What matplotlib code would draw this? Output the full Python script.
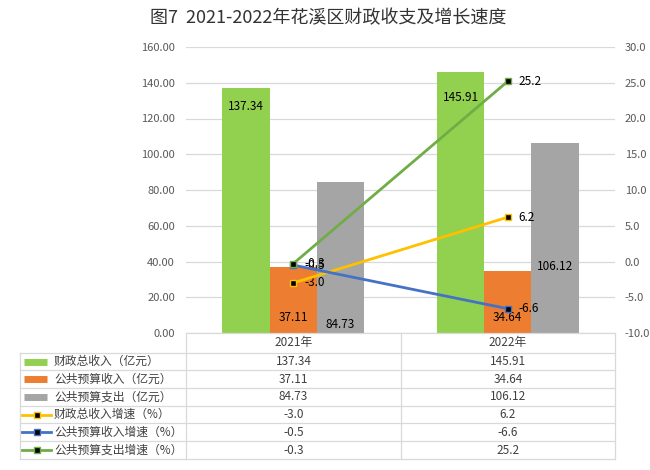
import matplotlib.pyplot as plt
import numpy as np
from matplotlib.lines import Line2D

plt.rcParams['font.family'] = ['Noto Sans CJK SC', 'DejaVu Sans']

years = ['2021年', '2022年']
total_rev = [137.34, 145.91]
budget_rev = [37.11, 34.64]
budget_exp = [84.73, 106.12]
total_rev_growth = [-3.0, 6.2]
budget_rev_growth = [-0.5, -6.6]
budget_exp_growth = [-0.3, 25.2]

bar_names = ['财政总收入（亿元）', '公共预算收入（亿元）', '公共预算支出（亿元）']
line_names = ['财政总收入增速（%）', '公共预算收入增速（%）', '公共预算支出增速（%）']
bar_colors = ['#92D050', '#ED7D31', '#A5A5A5']
line_colors = ['#FFC000', '#4472C4', '#70AD47']

W, H = 650, 470
fig = plt.figure(figsize=(6.5, 4.7), dpi=100)
x0, x1, y0, y1 = 186, 615, 333, 47
ax = fig.add_axes([x0 / W, 1 - y0 / H, (x1 - x0) / W, (y0 - y1) / H])
ax2 = ax.twinx()

x = np.arange(len(years))
bw = 0.22
bars = [total_rev, budget_rev, budget_exp]
for i, (vals, c) in enumerate(zip(bars, bar_colors)):
    ax.bar(x + (i - 1) * bw, vals, bw, color=c, zorder=2)

# bar labels (Excel-ish placement)
tick_kw = dict(ha='center', fontsize=8.5, color='black', zorder=5)
for j in range(2):
    ax.annotate(f'{total_rev[j]:.2f}', (x[j] - bw, total_rev[j]), xytext=(0, -14 if j == 0 else -18),
                textcoords='offset points', va='center', **tick_kw)
    ax.annotate(f'{budget_rev[j]:.2f}', (x[j], 0), xytext=(0, 11),
                textcoords='offset points', va='center', **tick_kw)
ax.annotate(f'{budget_exp[0]:.2f}', (x[0] + bw, 0), xytext=(0, 6),
            textcoords='offset points', va='center', **tick_kw)
ax.annotate(f'{budget_exp[1]:.2f}', (x[1] + bw, 37), va='center', **tick_kw)

ax.set_ylim(0, 160)
ax.set_yticks(np.arange(0, 161, 20))
ax.set_yticklabels([f'{v:.2f}' for v in np.arange(0, 161, 20)])
ax.set_xlim(-0.5, 1.5)
ax.set_xticks([])
ax.grid(axis='y', color='#D9D9D9', linewidth=0.9, zorder=0)
ax.set_axisbelow(True)

lines = [total_rev_growth, budget_rev_growth, budget_exp_growth]
for vals, c in zip(lines, line_colors):
    ax2.plot(x, vals, color=c, linewidth=2, marker='s', markersize=5,
             markerfacecolor='black', markeredgecolor=c, markeredgewidth=1, zorder=4)
    for j in range(2):
        ax2.annotate(f'{vals[j]:.1f}', (x[j], vals[j]), xytext=(8, 0), textcoords='offset points',
                     ha='left', va='center', fontsize=8.5, color='black')
ax2.set_ylim(-10, 30)
ax2.set_yticks(np.arange(-10, 31, 5))
ax2.set_yticklabels([f'{v:.1f}' for v in np.arange(-10, 31, 5)])

for a in (ax, ax2):
    for s in a.spines.values():
        s.set_visible(False)
    a.tick_params(length=0, labelsize=8, colors='#595959')
ax.tick_params(axis='y', pad=8)
ax2.tick_params(axis='y', pad=7)

fig.text(328 / W, 1 - 18 / H, '图7  2021-2022年花溪区财政收支及增长速度', ha='center', va='center',
         fontsize=13, color='#333333')

# data table below the plot
grid_c = '#D9D9D9'
row_tops = [333, 352.7, 370.3, 388, 405.7, 423.3, 441, 459]
cols = [20, 186, 401, 615]

def fx(px):
    return px / W

def fy(py):
    return 1 - py / H

for k, yy in enumerate(row_tops):
    xs = cols[1] if k == 0 else cols[0]
    fig.add_artist(Line2D([fx(xs), fx(cols[3])], [fy(yy), fy(yy)], color=grid_c, linewidth=0.9))
for k, xx in enumerate(cols):
    ys = row_tops[1] if k == 0 else row_tops[0]
    fig.add_artist(Line2D([fx(xx), fx(xx)], [fy(ys), fy(row_tops[-1])], color=grid_c, linewidth=0.9))

centers = [(cols[1] + cols[2]) / 2, (cols[2] + cols[3]) / 2]
hy = (row_tops[0] + row_tops[1]) / 2
for j, yr in enumerate(years):
    fig.text(fx(centers[j]), fy(hy), yr, ha='center', va='center', fontsize=8.5, color='#404040')

names = bar_names + line_names
series = [[f'{v:.2f}' for v in s] for s in bars] + [[f'{v:.1f}' for v in s] for s in lines]
colors = bar_colors + line_colors
for r in range(6):
    cy = (row_tops[r + 1] + row_tops[r + 2]) / 2
    if r < 3:
        fig.add_artist(Line2D([fx(24), fx(47)], [fy(cy), fy(cy)], color=colors[r], linewidth=5,
                              solid_capstyle='butt'))
    else:
        fig.add_artist(Line2D([fx(22), fx(51)], [fy(cy), fy(cy)], color=colors[r], linewidth=2))
        fig.add_artist(Line2D([fx(36.5)], [fy(cy)], marker='s', markersize=5, markerfacecolor='black',
                              markeredgecolor=colors[r], linestyle='none'))
    fig.text(fx(54), fy(cy), names[r], ha='left', va='center', fontsize=8.5, color='#404040')
    for j in range(2):
        fig.text(fx(centers[j]), fy(cy), series[r][j], ha='center', va='center', fontsize=8.5,
                 color='#404040')

fig.savefig('out.png', dpi=100)
